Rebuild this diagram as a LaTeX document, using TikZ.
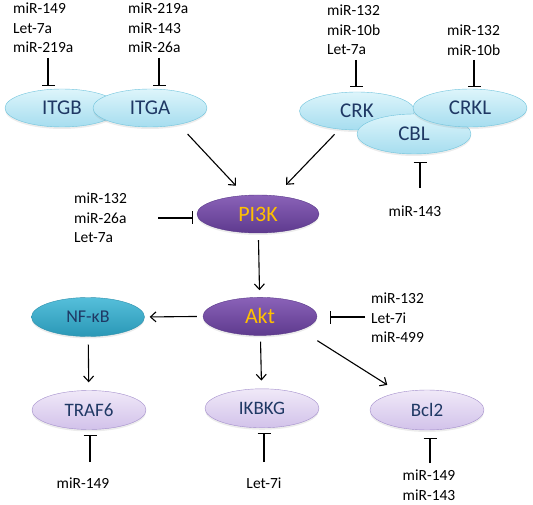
\documentclass[tikz,border=0pt]{standalone}
\usepackage{fontspec}
\setmainfont{Carlito}
\usepackage{xcolor}
\usepackage{tikz}
\usetikzlibrary{shapes.geometric, arrows.meta, positioning, shadows}
\definecolor{navy}{HTML}{1F3864}
\definecolor{gold}{HTML}{FFC000}
\definecolor{cyantop}{HTML}{DDF5FB}
\definecolor{cyanbot}{HTML}{A6DDEF}
\definecolor{cyanedge}{HTML}{6FC3DC}
\definecolor{purptop}{HTML}{8A62B8}
\definecolor{purpbot}{HTML}{5E3A8E}
\definecolor{purpedge}{HTML}{5A3A8A}
\definecolor{tealtop}{HTML}{55BFDA}
\definecolor{tealbot}{HTML}{2A98B6}
\definecolor{tealedge}{HTML}{2E90AC}
\definecolor{lavtop}{HTML}{F0E9F8}
\definecolor{lavbot}{HTML}{D2C2EA}
\definecolor{lavedge}{HTML}{A28DCB}
\tikzset{
    receptor/.style={
        ellipse,
        draw=cyanedge,
        top color=cyantop,
        bottom color=cyanbot,
        minimum width=114pt,
        minimum height=38pt,
        inner sep=0pt,
        text=navy,
        drop shadow={opacity=0.15, shadow xshift=0pt, shadow yshift=-2pt},
        font=\fontsize{21}{21}\selectfont
    },
    kinase/.style={
        ellipse,
        draw=purpedge,
        top color=purptop,
        bottom color=purpbot,
        minimum width=116pt,
        minimum height=38pt,
        inner sep=0pt,
        text=gold,
        drop shadow={opacity=0.15, shadow xshift=0pt, shadow yshift=-2pt},
        font=\fontsize{22}{22}\selectfont
    },
    factor/.style={
        ellipse,
        draw=tealedge,
        top color=tealtop,
        bottom color=tealbot,
        minimum width=113pt,
        minimum height=39pt,
        inner sep=0pt,
        text=navy,
        drop shadow={opacity=0.15, shadow xshift=0pt, shadow yshift=-2pt},
        font=\fontsize{18}{18}\selectfont
    },
    target/.style={
        ellipse,
        draw=lavedge,
        top color=lavtop,
        bottom color=lavbot,
        minimum width=114pt,
        minimum height=39pt,
        inner sep=0pt,
        text=navy,
        drop shadow={opacity=0.15, shadow xshift=0pt, shadow yshift=-2pt},
        font=\fontsize{19}{19}\selectfont
    },
    mirna/.style={
        align=left,
        inner sep=0pt,
        font=\fontsize{15.5}{19.5}\selectfont
    },
    act/.style={
        draw=black,
        line width=1.1pt,
        -{Straight Barb[length=5.5pt, width=10pt]}
    },
    inhib/.style={
        draw=black,
        line width=1.1pt,
        -{Bar[width=13pt]}
    }
}

\begin{document}
\begin{tikzpicture}[x=1pt, y=-1pt]
\useasboundingbox (0,0) rectangle (533,505);

% Receptors (top left)
\node[receptor] (ITGB) at (62,108) {ITGB};
\node[receptor] (ITGA) at (150,108) {ITGA};

% Adaptor cluster (top right)
\node[receptor, minimum width=115pt] (CRK) at (357,111) {CRK};
\node[receptor, minimum height=40pt] (CBL) at (414,134) {CBL};
\node[receptor] (CRKL) at (470,108) {CRKL};

% Kinases (middle)
\node[kinase, minimum width=122pt] (PI3K) at (258,214) {PI3K};
\node[kinase, below=64pt of PI3K, xshift=2pt, minimum width=114pt] (Akt) {Akt};
\node[factor] (NFkB) at (88,317) {NF-κB};

% Targets (bottom row)
\node[target] (TRAF6) at (89,410) {TRAF6};
\node[target, below=53pt of Akt, xshift=2pt] (IKBKG) {IKBKG};
\node[target, minimum height=40pt] (Bcl2) at (427,410) {Bcl2};

% miRNA labels
\node[mirna, anchor=west] (mITGB) at (13,28) {miR-149\\Let-7a\\miR-219a};
\node[mirna, anchor=west] (mITGA) at (128,28) {miR-219a\\miR-143\\miR-26a};
\node[mirna, anchor=west] (mCRK) at (327,30) {miR-132\\miR-10b\\Let-7a};
\node[mirna, anchor=west] (mCRKL) at (447,40) {miR-132\\miR-10b};
\node[mirna] (mCBL) at (415,211) {miR-143};
\node[mirna, anchor=west] (mPI3K) at (74,218) {miR-132\\miR-26a\\Let-7a};
\node[mirna, anchor=west] (mAkt) at (371,318) {miR-132\\Let-7i\\miR-499};
\node[mirna] (mTRAF6) at (83,483) {miR-149};
\node[mirna] (mIKBKG) at (264,483) {Let-7i};
\node[mirna, align=center] (mBcl2) at (429,485) {miR-149\\miR-143};

% Inhibition starts
\coordinate (iITGB) at (48,58);
\coordinate (iITGA) at (159,58);
\coordinate (iCRK) at (356,60);
\coordinate (iCRKL) at (474,60);
\coordinate (iCBL) at (420,188);
\coordinate (iPI3K) at (158,218);
\coordinate (iAkt) at (365,317);
\coordinate (iTRAF6) at (90,462);
\coordinate (iIKBKG) at (264,462);
\coordinate (iBcl2) at (430,463);

% Activation
\draw[act, shorten <=13pt, shorten >=13pt] (ITGA.-30) -- (PI3K.125);
\draw[act, shorten <=7pt, shorten >=15pt] (CRK) -- (PI3K);
\draw[act, shorten <=7pt, shorten >=7pt] (PI3K) -- (Akt);
\draw[act, shorten <=6pt, shorten >=5pt] (Akt.west) -- (NFkB.east);
\draw[act, shorten <=8pt, shorten >=8pt] (NFkB) -- (TRAF6);
\draw[act, shorten <=6pt, shorten >=8pt] (Akt) -- (IKBKG);
\draw[act, shorten <=20pt, shorten >=14pt] (Akt.south east) -- (Bcl2);

% Inhibition
\draw[inhib, shorten >=3pt] (iITGB) -- (iITGB |- ITGB.north);
\draw[inhib, shorten >=3pt] (iITGA) -- (iITGA |- ITGA.north);
\draw[inhib, shorten >=5pt] (iCRK) -- (iCRK |- CRK.north);
\draw[inhib, shorten >=2pt] (iCRKL) -- (iCRKL |- CRKL.north);
\draw[inhib, shorten >=8pt] (iCBL) -- (iCBL |- CBL.south);
\draw[inhib, shorten >=4pt] (iPI3K) -- (iPI3K -| PI3K.west);
\draw[inhib, shorten >=13pt] (iAkt) -- (iAkt -| Akt.east);
\draw[inhib, shorten >=5pt] (iTRAF6) -- (iTRAF6 |- TRAF6.south);
\draw[inhib, shorten >=5pt] (iIKBKG) -- (iIKBKG |- IKBKG.south);
\draw[inhib, shorten >=8pt] (iBcl2) -- (iBcl2 |- Bcl2.south);

\end{tikzpicture}
\end{document}
